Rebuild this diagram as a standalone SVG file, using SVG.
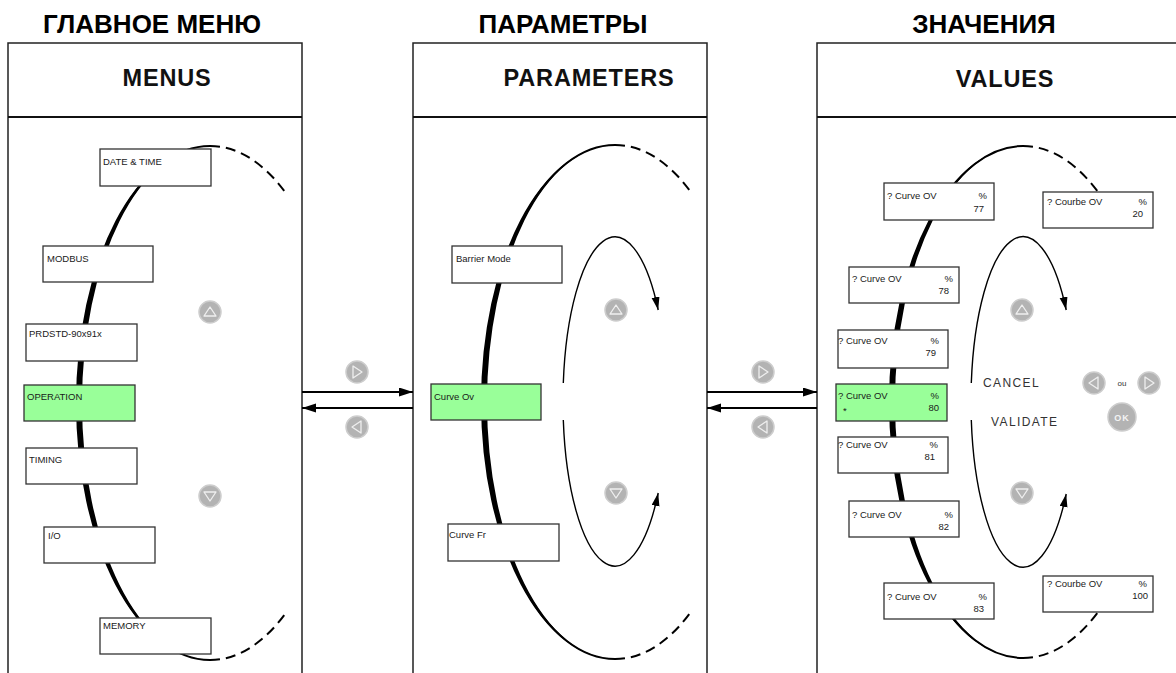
<svg xmlns="http://www.w3.org/2000/svg" width="1176" height="673" viewBox="0 0 1176 673">
<style>
.title{font-family:"Liberation Sans",Arial,sans-serif;font-weight:bold;font-size:26px;fill:#000;text-anchor:middle}
.head{font-family:"Liberation Sans",Arial,sans-serif;font-weight:bold;font-size:23.5px;fill:#111;letter-spacing:0.8px;text-anchor:middle}
.panel{fill:none;stroke:#222;stroke-width:1.5}
.hline{fill:none;stroke:#111;stroke-width:2}
.box{fill:#fff;stroke:#333;stroke-width:1.3}
.sel{fill:#99ff99;stroke:#333;stroke-width:1.3}
.t{font-family:"Liberation Sans",Arial,sans-serif;font-size:9.5px;fill:#1a1a1a}
.te{font-family:"Liberation Sans",Arial,sans-serif;font-size:9.5px;fill:#1a1a1a;text-anchor:end}
.solid{fill:none;stroke:#000;stroke-width:2}
.crescent{fill:#000;stroke:none}
.dash{fill:none;stroke:#000;stroke-width:2;stroke-dasharray:10 6}
.thin{fill:none;stroke:#000;stroke-width:1.4}
.link{fill:none;stroke:#000;stroke-width:2}
.bc{fill:#b3b3b3;stroke:#cdcdcd;stroke-width:1.5}
.tri{fill:none;stroke:#efefef;stroke-width:1.3;stroke-linejoin:round}
.lbl{font-family:"Liberation Sans",Arial,sans-serif;font-size:12px;fill:#333;letter-spacing:1.4px}
</style>
<defs>
<marker id="ah" markerUnits="userSpaceOnUse" markerWidth="14" markerHeight="10" refX="14" refY="4.5" orient="auto">
<path d="M0,0 L14,4.5 L0,9 Z" fill="#000"/>
</marker>
<marker id="ahs" markerUnits="userSpaceOnUse" markerWidth="13" markerHeight="9" refX="13" refY="4" orient="auto">
<path d="M0,0 L13,4 L0,8 Z" fill="#000"/>
</marker>
<g id="bup"><circle class="bc" r="11"/><path class="tri" d="M0,-5 L6,4 L-6,4 Z"/></g>
<g id="bdown"><circle class="bc" r="11"/><path class="tri" d="M0,5 L6,-4 L-6,-4 Z"/></g>
<g id="bright"><circle class="bc" r="11"/><path class="tri" d="M5,0 L-4,-6 L-4,6 Z"/></g>
<g id="bleft"><circle class="bc" r="11"/><path class="tri" d="M-5,0 L4,-6 L4,6 Z"/></g>
</defs>
<rect width="1176" height="673" fill="#fff"/>

<!-- titles -->
<text class="title" x="152" y="33">ГЛАВНОЕ МЕНЮ</text>
<text class="title" x="563" y="33">ПАРАМЕТРЫ</text>
<text class="title" x="984" y="33">ЗНАЧЕНИЯ</text>

<!-- panels -->
<g id="panel-menus">
<path class="panel" d="M8,673 V43 H302 V673"/>
<path class="hline" d="M8,117 H302"/>
<text class="head" x="167" y="86">MENUS</text>
</g>
<g id="panel-parameters">
<path class="panel" d="M413,673 V43 H707 V673"/>
<path class="hline" d="M413,117 H707"/>
<text class="head" x="589" y="86">PARAMETERS</text>
</g>
<g id="panel-values">
<path class="panel" d="M817,673 V43 H1180"/>
<path class="hline" d="M817,117 H1180"/>
<text class="head" x="1005" y="87">VALUES</text>
</g>

<!-- connectors -->
<g id="connectors">
<!-- panel 1 ellipse -->
<path class="crescent" d="M210,146 A134,257 0 0 0 210,660 A128,257 0 0 1 210,146 Z"/>
<path class="solid" d="M210,146 A131,257 0 0 0 210,660"/>
<path class="dash" d="M210,146 A131,257 0 0 1 285,192"/>
<path class="dash" d="M210,660 A131,257 0 0 0 285,614"/>
<!-- panel 2 ellipse -->
<path class="crescent" d="M615,145 A134,257 0 0 0 615,659 A128,257 0 0 1 615,145 Z"/>
<path class="solid" d="M615,145 A131,257 0 0 0 615,659"/>
<path class="dash" d="M615,145 A131,257 0 0 1 690,191"/>
<path class="dash" d="M615,659 A131,257 0 0 0 690,613"/>
<path class="thin" marker-end="url(#ahs)" d="M563.3,383 A52,164.5 0 0 1 658.2,310"/>
<path class="thin" marker-end="url(#ahs)" d="M563.3,420 A52,164.5 0 0 0 658.2,493"/>
<!-- panel 3 ellipse -->
<path class="crescent" d="M1023,146 A134,256 0 0 0 1023,658 A128,256 0 0 1 1023,146 Z"/>
<path class="solid" d="M1023,146 A131,256 0 0 0 1023,658"/>
<path class="dash" d="M1023,146 A131,256 0 0 1 1098,192"/>
<path class="dash" d="M1023,658 A131,256 0 0 0 1098,612"/>
<path class="thin" marker-end="url(#ahs)" d="M971.3,383 A52,165 0 0 1 1066.2,310"/>
<path class="thin" marker-end="url(#ahs)" d="M971.3,420 A52,165 0 0 0 1066.2,494"/>
<!-- panel links -->
<path class="link" marker-end="url(#ah)" d="M302,392 H413"/>
<path class="link" marker-end="url(#ah)" d="M413,408 H302"/>
<path class="link" marker-end="url(#ah)" d="M707,392 H817"/>
<path class="link" marker-end="url(#ah)" d="M817,408 H707"/>
</g>

<!-- buttons -->
<g id="buttons">
<use href="#bup" x="210" y="312"/>
<use href="#bdown" x="210" y="496"/>
<use href="#bright" x="357" y="372"/>
<use href="#bleft" x="357" y="427"/>
<use href="#bup" x="616" y="310"/>
<use href="#bdown" x="616" y="493"/>
<use href="#bright" x="763" y="372"/>
<use href="#bleft" x="763" y="427"/>
<use href="#bup" x="1022" y="310"/>
<use href="#bdown" x="1022" y="493"/>
<use href="#bleft" x="1094" y="383"/>
<text x="1122" y="386" font-family="Liberation Sans, Arial, sans-serif" font-size="8" fill="#333" text-anchor="middle">ou</text>
<use href="#bright" x="1149" y="383"/>
<g id="btn-ok">
<circle class="bc" cx="1122" cy="417" r="14"/>
<text x="1122" y="420.5" font-family="Liberation Sans, Arial, sans-serif" font-size="9" font-weight="bold" fill="#f4f4f4" text-anchor="middle" letter-spacing="1">OK</text>
</g>
</g>

<g id="label-cancel"><text class="lbl" x="983" y="387">CANCEL</text></g>
<g id="label-validate"><text class="lbl" x="991" y="426">VALIDATE</text></g>

<!-- panel 1 nodes -->
<g id="n-datetime"><rect class="box" x="100" y="149" width="111" height="37"/><text class="t" x="103" y="165">DATE &amp; TIME</text></g>
<g id="n-modbus"><rect class="box" x="43" y="246" width="110" height="36"/><text class="t" x="47" y="262">MODBUS</text></g>
<g id="n-prdstd"><rect class="box" x="26" y="324" width="111" height="37"/><text class="t" x="29" y="337">PRDSTD-90x91x</text></g>
<g id="n-operation"><rect class="sel" x="24" y="385" width="111" height="36"/><text class="t" x="27" y="400">OPERATION</text></g>
<g id="n-timing"><rect class="box" x="26" y="448" width="111" height="36"/><text class="t" x="29" y="463">TIMING</text></g>
<g id="n-io"><rect class="box" x="44" y="527" width="111" height="36"/><text class="t" x="48" y="539">I/O</text></g>
<g id="n-memory"><rect class="box" x="100" y="618" width="111" height="36"/><text class="t" x="103" y="629">MEMORY</text></g>

<!-- panel 2 nodes -->
<g id="n-barrier"><rect class="box" x="452" y="246" width="110" height="37"/><text class="t" x="456" y="262">Barrier Mode</text></g>
<g id="n-curveov"><rect class="sel" x="431" y="384" width="110" height="36"/><text class="t" x="434" y="400">Curve Ov</text></g>
<g id="n-curvefr"><rect class="box" x="448" y="524" width="111" height="37"/><text class="t" x="449" y="538">Curve Fr</text></g>

<!-- panel 3 nodes -->
<g id="v-77"><rect class="box" x="884" y="183" width="110" height="37"/><text class="t" x="887" y="199">? Curve OV</text><text class="te" x="987" y="199">%</text><text class="te" x="984" y="212">77</text></g>
<g id="v-20"><rect class="box" x="1043" y="192" width="110" height="36"/><text class="t" x="1047" y="205">? Courbe OV</text><text class="te" x="1147" y="205">%</text><text class="te" x="1143" y="217">20</text></g>
<g id="v-78"><rect class="box" x="849" y="267" width="110" height="36"/><text class="t" x="852" y="282">? Curve OV</text><text class="te" x="953" y="282">%</text><text class="te" x="949" y="294">78</text></g>
<g id="v-79"><rect class="box" x="838" y="330" width="110" height="38"/><text class="t" x="838" y="344">? Curve OV</text><text class="te" x="939" y="344">%</text><text class="te" x="936" y="356">79</text></g>
<g id="v-80"><rect class="sel" x="836" y="384" width="111" height="37"/><text class="t" x="838" y="399">? Curve OV</text><text class="t" x="843" y="414" font-size="8">*</text><text class="te" x="939" y="399">%</text><text class="te" x="939" y="411">80</text></g>
<g id="v-81"><rect class="box" x="838" y="437" width="110" height="36"/><text class="t" x="838" y="448">? Curve OV</text><text class="te" x="938" y="448">%</text><text class="te" x="935" y="460">81</text></g>
<g id="v-82"><rect class="box" x="849" y="501" width="110" height="36"/><text class="t" x="852" y="518">? Curve OV</text><text class="te" x="953" y="518">%</text><text class="te" x="949" y="530">82</text></g>
<g id="v-83"><rect class="box" x="884" y="583" width="110" height="36"/><text class="t" x="887" y="600">? Curve OV</text><text class="te" x="987" y="600">%</text><text class="te" x="984" y="612">83</text></g>
<g id="v-100"><rect class="box" x="1043" y="576" width="110" height="36"/><text class="t" x="1047" y="587">? Courbe OV</text><text class="te" x="1147" y="587">%</text><text class="te" x="1148" y="599">100</text></g>
</svg>
